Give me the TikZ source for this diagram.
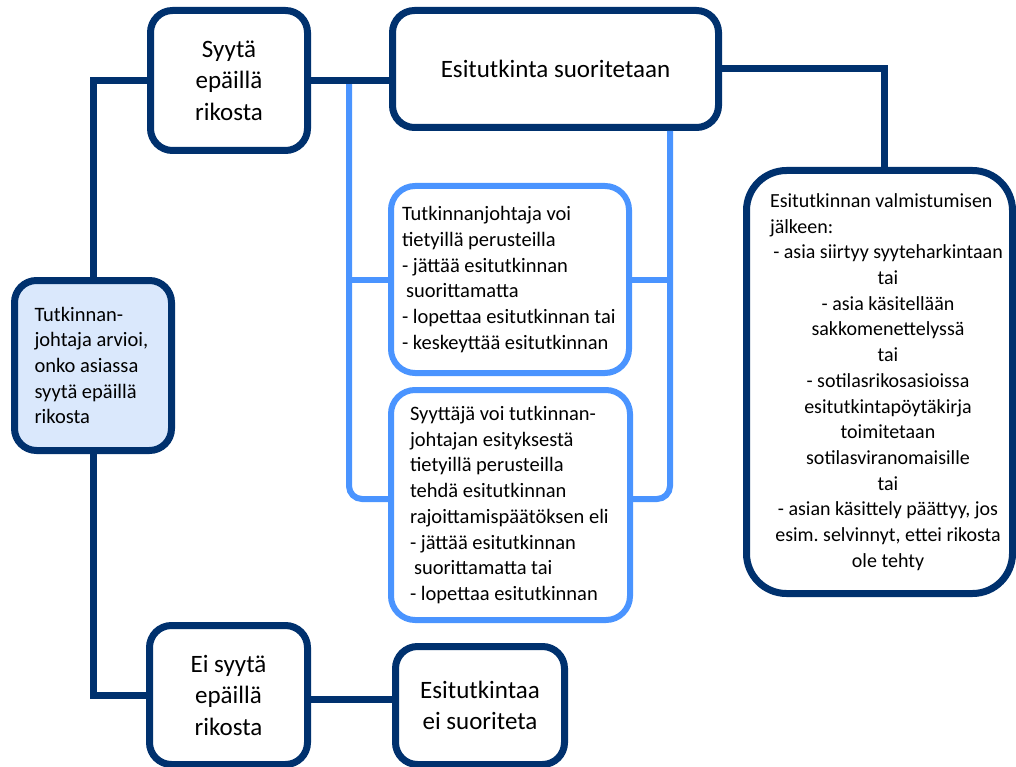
\documentclass[tikz,border=0pt]{standalone}
\usepackage{fontspec}
\setmainfont{Carlito}
\usepackage{tikz}
\usetikzlibrary{positioning}
\pgfdeclarelayer{nodelayer}
\pgfdeclarelayer{edgelayer}
\pgfsetlayers{nodelayer,edgelayer,main}
\definecolor{navy}{RGB}{0,49,110}
\definecolor{skyline}{RGB}{74,148,255}
\definecolor{paleblue}{RGB}{218,232,252}
\frenchspacing
\tikzset{
  darkbox/.style={draw=navy, line width=7pt, rounded corners=22pt, fill=white, align=center, inner sep=0pt, font=\fontsize{25pt}{31.5pt}\selectfont},
  textbox/.style={draw=navy, line width=7pt, rounded corners=22pt, fill=paleblue, align=flush left, inner sep=0pt, font=\fontsize{20.5pt}{25.7pt}\selectfont},
  lightbox/.style={draw=skyline, line width=6pt, rounded corners=24pt, fill=white, align=flush left, inner sep=0pt, font=\fontsize{20.5pt}{25.7pt}\selectfont},
  darkline/.style={draw=navy, line width=7pt},
  lightline/.style={draw=skyline, line width=6pt, rounded corners=13pt},
}

\begin{document}
\begin{tikzpicture}[x=1pt, y=-1pt]
  \useasboundingbox (0,0) rectangle (1016,767);
  \begin{pgfonlayer}{nodelayer}
    \node [darkbox, minimum width=157pt, minimum height=140pt] (0) at (229, 80.5) {Syytä\\epäillä\\rikosta};
    \node [darkbox, minimum width=326pt, minimum height=117pt] (1) at (555.5, 69) {Esitutkinta suoritetaan};
    \node [textbox, minimum width=157pt, minimum height=170pt, text width=117pt] (2) at (93, 365.5) {Tutkinnan-\\johtaja arvioi,\\onko asiassa\\syytä epäillä\\rikosta};
    \node [lightbox, minimum width=238pt, minimum height=187pt, text width=216pt] (3) at (510, 279.5) {Tutkinnanjohtaja voi\\tietyillä perusteilla\\- jättää esitutkinnan\\\hspace*{4pt}suorittamatta\\- lopettaa esitutkinnan tai\\- keskeyttää esitutkinnan};
    \node [lightbox, minimum width=239pt, minimum height=230pt, text width=201pt] (4) at (510.5, 505) {Syyttäjä voi tutkinnan-\\johtajan esityksestä\\tietyillä perusteilla\\tehdä esitutkinnan\\rajoittamispäätöksen eli\\- jättää esitutkinnan\\\hspace*{4pt}suorittamatta tai\\- lopettaa esitutkinnan};
    \node [darkbox, align=none, rounded corners=40pt, minimum width=266pt, minimum height=423pt, text width=253pt, font=\fontsize{20pt}{25.7pt}\selectfont] (5) at (879.5, 382) {{\leftskip=17pt\relax Esitutkinnan valmistumisen\newline jälkeen:\par}\centering\leftskip=17pt plus 1fil\relax
      - asia siirtyy syyteharkintaan\\tai\\- asia käsitellään\\sakkomenettelyssä\\tai\\- sotilasrikosasioissa\\esitutkintapöytäkirja\\toimitetaan\\sotilasviranomaisille\\tai\\- asian käsittely päättyy, jos\\esim. selvinnyt, ettei rikosta\\ole tehty\par};
    \node [darkbox, minimum width=158pt, minimum height=139pt] (6) at (228.5, 695) {Ei syytä\\epäillä\\rikosta};
    \node [darkbox, minimum width=169pt, minimum height=118pt] (7) at (480, 705.5) {Esitutkintaa\\ei suoriteta};
  \end{pgfonlayer}
  \begin{pgfonlayer}{edgelayer}
    \coordinate (8) at (349, 82);
    \coordinate (9) at (670, 131);
    \draw [lightline] (8) |- ([yshift=6pt]4.west);
    \draw [lightline] (9) |- ([yshift=6pt]4.east);
    \draw [lightline] (8 |- 3.west) -- (3.west);
    \draw [lightline] (3.east) -- (3.east -| 9);
    \draw [darkline] (0.west) -| (2.north);
    \draw [darkline] (2.south) |- (6.west);
    \draw [darkline] (0.east) -- (0.east -| 1.west);
    \draw [darkline] (1.east) -| ([xshift=5pt]5.north);
    \draw [darkline] ([yshift=-4pt]6.east) -- ([yshift=-4pt]6.east -| 7.west);
  \end{pgfonlayer}
\end{tikzpicture}
\end{document}
